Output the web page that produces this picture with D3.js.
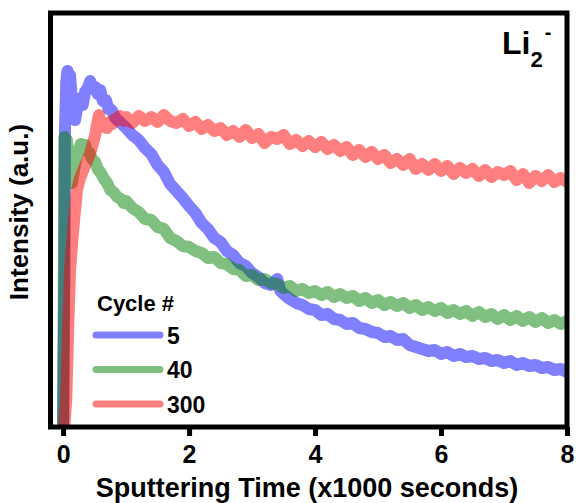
<!DOCTYPE html>
<html>
<head>
<meta charset="utf-8">
<script src="https://cdn.jsdelivr.net/npm/d3@7/dist/d3.min.js"></script>
<style>
  body { margin: 0; background: #fff; }
  svg text { font-family: "Liberation Sans", Arial, sans-serif; font-weight: bold; fill: #000; }
</style>
</head>
<body>
<div id="chart"></div>
<script>
// [sputtering time (x1000 s), intensity (a.u.)]
const cycles = ['5', '40', '300'];
const colors = ['#0000ff', '#008000', '#ff0000'];

const cycle5 = [
  [0, 5], [0.02, 147], [0.03, 297], [0.05, 345], [0.07, 356], [0.09, 350], [0.11, 352], [0.13, 335],
  [0.16, 322], [0.19, 307], [0.22, 318], [0.25, 325], [0.28, 329], [0.31, 322], [0.35, 335], [0.4, 340],
  [0.43, 346], [0.47, 338], [0.51, 340], [0.55, 333], [0.59, 337], [0.63, 326], [0.68, 327], [0.72, 318],
  [0.77, 317], [0.83, 309], [0.9, 305], [0.95, 302], [1.0, 299], [1.1, 292], [1.2, 287], [1.3, 279],
  [1.4, 273], [1.5, 262], [1.6, 255], [1.7, 243], [1.8, 236], [1.9, 229], [2.0, 221], [2.1, 214],
  [2.2, 204], [2.3, 198], [2.4, 189], [2.5, 185], [2.6, 176], [2.7, 172], [2.8, 164], [2.9, 161],
  [3.0, 154], [3.1, 150], [3.2, 144], [3.3, 142], [3.4, 148], [3.45, 136], [3.5, 133], [3.6, 128],
  [3.7, 124], [3.8, 122], [3.9, 118], [4.0, 117], [4.1, 112], [4.2, 113], [4.3, 108], [4.4, 107],
  [4.5, 103], [4.6, 104], [4.7, 99], [4.8, 98], [4.9, 95], [5.0, 94], [5.1, 90], [5.2, 91],
  [5.3, 87], [5.4, 88], [5.5, 82], [5.6, 80], [5.7, 78], [5.8, 76], [5.9, 77], [6.0, 73],
  [6.1, 75], [6.2, 71], [6.3, 73], [6.4, 70], [6.5, 71], [6.6, 68], [6.7, 69], [6.8, 66],
  [6.9, 67], [7.0, 64], [7.1, 66], [7.2, 62], [7.3, 64], [7.4, 61], [7.5, 62], [7.6, 59],
  [7.7, 60], [7.8, 57], [7.9, 58], [8.0, 55]
];

const cycle40 = [
  [0, 2], [0.01, 127], [0.02, 290], [0.04, 284], [0.06, 287], [0.09, 270], [0.11, 262], [0.14, 244],
  [0.17, 255], [0.19, 262], [0.22, 272], [0.25, 277], [0.28, 283], [0.31, 279], [0.35, 282], [0.38, 276],
  [0.42, 274], [0.46, 268], [0.51, 265], [0.55, 258], [0.6, 254], [0.65, 248], [0.7, 244], [0.75, 237],
  [0.8, 235], [0.86, 230], [0.92, 228], [0.96, 224], [1.0, 226], [1.1, 219], [1.2, 215], [1.3, 208],
  [1.4, 207], [1.5, 200], [1.6, 198], [1.7, 189], [1.8, 186], [1.9, 181], [2.0, 180], [2.1, 176],
  [2.2, 174], [2.3, 169], [2.4, 170], [2.5, 164], [2.6, 163], [2.7, 158], [2.8, 157], [2.9, 151],
  [3.0, 152], [3.1, 147], [3.2, 148], [3.3, 144], [3.4, 143], [3.5, 139], [3.6, 141], [3.7, 136],
  [3.8, 138], [3.9, 134], [4.0, 136], [4.1, 132], [4.2, 135], [4.3, 130], [4.4, 133], [4.5, 129],
  [4.6, 131], [4.7, 126], [4.8, 129], [4.9, 124], [5.0, 127], [5.1, 122], [5.2, 125], [5.3, 121],
  [5.4, 124], [5.5, 119], [5.6, 122], [5.7, 117], [5.8, 120], [5.9, 116], [6.0, 119], [6.1, 114],
  [6.2, 117], [6.3, 113], [6.4, 116], [6.5, 111], [6.6, 115], [6.7, 110], [6.8, 113], [6.9, 108],
  [7.0, 112], [7.1, 107], [7.2, 111], [7.3, 106], [7.4, 110], [7.5, 105], [7.6, 109], [7.7, 104],
  [7.8, 107], [7.9, 103], [8.0, 106]
];

const cycle300 = [
  [0.02, 2], [0.05, 27], [0.08, 97], [0.11, 157], [0.16, 197], [0.22, 237], [0.27, 249], [0.32, 257],
  [0.38, 266], [0.43, 274], [0.48, 285], [0.51, 292], [0.54, 303], [0.57, 312], [0.6, 303], [0.65, 300],
  [0.7, 299], [0.74, 305], [0.78, 303], [0.82, 308], [0.86, 307], [0.9, 311], [0.94, 309], [0.97, 306],
  [1.0, 310], [1.1, 304], [1.2, 311], [1.3, 306], [1.4, 310], [1.5, 305], [1.6, 312], [1.7, 306],
  [1.8, 304], [1.9, 308], [2.0, 301], [2.1, 305], [2.2, 298], [2.3, 302], [2.4, 296], [2.5, 299],
  [2.6, 292], [2.7, 296], [2.8, 290], [2.9, 297], [3.0, 289], [3.1, 293], [3.2, 284], [3.3, 290],
  [3.4, 288], [3.5, 292], [3.6, 283], [3.7, 287], [3.8, 281], [3.9, 286], [4.0, 280], [4.1, 285],
  [4.2, 278], [4.3, 282], [4.4, 276], [4.5, 280], [4.6, 272], [4.7, 277], [4.8, 270], [4.9, 275],
  [5.0, 268], [5.1, 272], [5.2, 264], [5.3, 268], [5.4, 262], [5.5, 268], [5.6, 258], [5.7, 263],
  [5.8, 257], [5.9, 263], [6.0, 256], [6.1, 261], [6.2, 253], [6.3, 259], [6.4, 254], [6.5, 258],
  [6.6, 251], [6.7, 257], [6.8, 250], [6.9, 255], [7.0, 252], [7.1, 256], [7.2, 247], [7.3, 253],
  [7.4, 244], [7.5, 251], [7.6, 246], [7.7, 252], [7.8, 245], [7.9, 249], [8.0, 245]
];

const xTicks = [0, 2, 4, 6, 8];

const W = 576, H = 503;
const margin = { top: 13, right: 9, bottom: 76, left: 50.5 };

const svg = d3.select('#chart').append('svg').attr('width', W).attr('height', H);

const x = d3.scaleLinear().domain([-0.2, 8]).range([margin.left, W - margin.right]);
const y = d3.scaleLinear().domain([0, 414]).range([H - margin.bottom, margin.top]);

const series = [
  { name: cycles[0], color: colors[0], values: cycle5 },
  { name: cycles[1], color: colors[1], values: cycle40 },
  { name: cycles[2], color: colors[2], values: cycle300 }
];

svg.append('defs').append('clipPath').attr('id', 'clip')
  .append('rect')
  .attr('x', margin.left).attr('y', margin.top)
  .attr('width', W - margin.right - margin.left)
  .attr('height', H - margin.bottom - margin.top);

const line = d3.line().x(d => x(d[0])).y(d => y(d[1]));

svg.append('g').attr('clip-path', 'url(#clip)')
  .selectAll('path')
  .data(series)
  .join('path')
  .attr('d', s => line(s.values))
  .attr('fill', 'none')
  .attr('stroke', s => s.color)
  .attr('stroke-opacity', 0.5)
  .attr('stroke-width', 12)
  .attr('stroke-linejoin', 'round')
  .attr('stroke-linecap', 'round');

// frame
svg.append('rect')
  .attr('x', margin.left).attr('y', margin.top)
  .attr('width', W - margin.right - margin.left)
  .attr('height', H - margin.bottom - margin.top)
  .attr('fill', 'none').attr('stroke', '#000').attr('stroke-width', 5);

// bottom axis
const xAxis = svg.append('g')
  .attr('transform', `translate(0,${H - margin.bottom})`)
  .call(d3.axisBottom(x).tickValues(xTicks).tickSize(9).tickPadding(9).tickFormat(d3.format('d')));
xAxis.select('.domain').remove();
xAxis.selectAll('.tick line').attr('stroke', '#000').attr('stroke-width', 5);
xAxis.selectAll('.tick text').attr('font-size', 25).style('font-family', '"Liberation Sans", Arial, sans-serif').attr('font-weight', 'bold');

svg.append('text')
  .attr('x', 307).attr('y', 497)
  .attr('text-anchor', 'middle')
  .attr('font-size', 27)
  .text('Sputtering Time (x1000 seconds)');

svg.append('text')
  .attr('transform', 'translate(28,212) rotate(-90)')
  .attr('text-anchor', 'middle')
  .attr('font-size', 26)
  .text('Intensity (a.u.)');

// species label
const title = svg.append('text').attr('x', 502).attr('y', 54).attr('font-size', 32);
title.append('tspan').text('Li');
title.append('tspan').attr('font-size', 22).attr('dy', 13).text('2');
title.append('tspan').attr('font-size', 20).attr('dx', 2).attr('dy', -28).text('-');

// legend
const lg = svg.append('g');
lg.append('text').attr('x', 97).attr('y', 311).attr('font-size', 22).text('Cycle #');
const rows = lg.selectAll('g.row').data(series).join('g')
  .attr('class', 'row')
  .attr('transform', (s, k) => `translate(0,${335 + k * 34.5})`);
rows.append('line')
  .attr('x1', 96).attr('x2', 160)
  .attr('stroke', s => s.color).attr('stroke-opacity', 0.5)
  .attr('stroke-width', 7).attr('stroke-linecap', 'round');
rows.append('text')
  .attr('x', 167).attr('y', 8.5)
  .attr('font-size', 23)
  .text(s => s.name);
</script>
</body>
</html>
